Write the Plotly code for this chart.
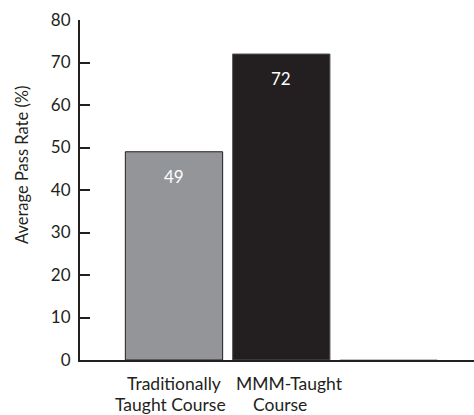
import plotly.graph_objects as go

# Course types and their average pass rates (%)
categories = ["Traditional", "MMM", "blank"]
label_line1 = ["Traditionally", "MMM-Taught", ""]
label_line2 = ["Taught Course", "Course", ""]
pass_rates = [49, 72, 0]
bar_colors = ["#939598", "#231f20", "rgba(0,0,0,0)"]
value_labels = ["49", "72", ""]
y_ticks = [0, 10, 20, 30, 40, 50, 60, 70, 80]
y_title = "Average Pass Rate (%)"

ink = "#231f20"
font_family = "Lato, 'Open Sans', sans-serif"

fig = go.Figure(
    go.Bar(
        x=categories,
        y=pass_rates,
        marker=dict(color=bar_colors, line=dict(color=[ink, "#555555", "#aaaaaa"], width=1)),
        width=0.907,
        hoverinfo="skip",
    )
)

# Value labels sitting just below the top of each bar
for cat, val, lab in zip(categories, pass_rates, value_labels):
    if lab:
        fig.add_annotation(
            x=cat, y=val, text=lab, showarrow=False,
            yanchor="top", yshift=-12,
            font=dict(family=font_family, size=17, color="white"),
        )

# Two-line category captions under the axis, each line placed on its own
line_xshift = [(0, -3), (8, -1), (0, 0)]
for cat, l1, l2, (dx1, dx2) in zip(categories, label_line1, label_line2, line_xshift):
    if not l1:
        continue
    fig.add_annotation(
        x=cat, y=0, text=l1, showarrow=False, borderpad=0,
        yanchor="top", yshift=-12, xshift=dx1,
        font=dict(family=font_family, size=17.5, color=ink),
    )
    fig.add_annotation(
        x=cat, y=0, text=l2, showarrow=False, borderpad=0,
        yanchor="top", yshift=-33, xshift=dx2,
        font=dict(family=font_family, size=17.5, color=ink),
    )

# Vertical axis title, set a little above the middle of the axis
fig.add_annotation(
    x=0, y=0.5735, xref="paper", yref="paper", text=y_title,
    showarrow=False, textangle=-90, xanchor="center", yanchor="middle",
    xshift=-58, font=dict(family=font_family, size=16.5, color=ink),
)

fig.update_layout(
    width=474,
    height=415,
    margin=dict(l=80, r=0, t=20, b=55),
    paper_bgcolor="white",
    plot_bgcolor="white",
    showlegend=False,
    font=dict(family=font_family, size=17, color=ink),
    xaxis=dict(
        range=[-0.876, 2.796],
        showline=True, linecolor=ink, linewidth=2,
        ticks="", showgrid=False, zeroline=False,
        showticklabels=False,
        automargin=False,
    ),
    yaxis=dict(
        range=[0, 80],
        tickvals=y_ticks,
        showline=True, linecolor=ink, linewidth=2,
        ticks="inside", ticklen=10, tickwidth=2, tickcolor=ink,
        showgrid=False, zeroline=False,
        tickfont=dict(size=17, color=ink),
        ticklabelstandoff=4,
        automargin=False,
    ),
)

fig.write_html("out.html")
